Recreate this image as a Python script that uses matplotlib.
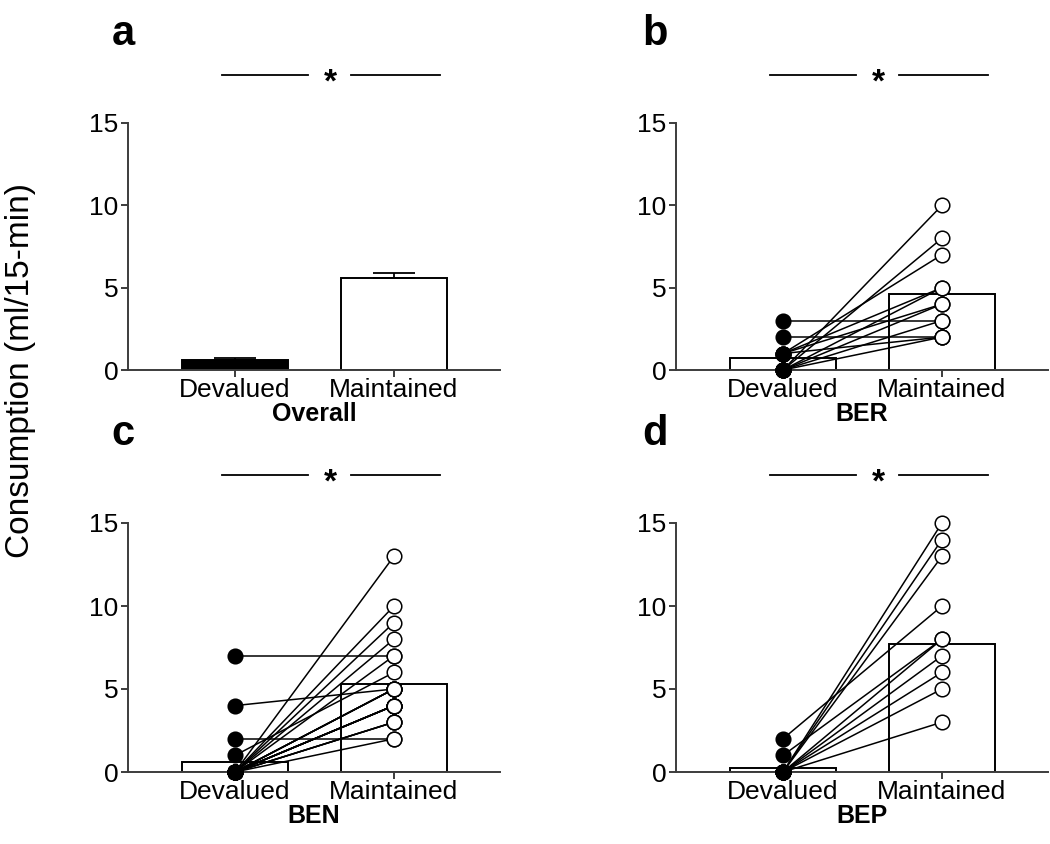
import matplotlib.pyplot as plt

plt.rcParams['font.family'] = ['Liberation Sans', 'DejaVu Sans']

groups = ["Devalued", "Maintained"]

# a: overall means with SEM
overall_means = [0.6, 5.6]
overall_sem = [0.15, 0.32]

# b: BER
ber_means = [0.75, 4.6]
ber_devalued = [0, 0, 1, 0, 1, 0, 1, 3, 0, 2, 0, 1]
ber_maintained = [10, 8, 7, 5, 5, 4, 4, 3, 3, 2, 2, 2]

# c: BEN
ben_means = [0.6, 5.3]
ben_devalued = [7, 4, 2, 1, 0, 0, 0, 0, 0, 0, 0, 0, 0, 0, 0, 0, 0, 0, 0, 0, 0, 0, 0]
ben_maintained = [7, 5, 2, 6, 13, 10, 9, 8, 7, 5, 5, 5, 5, 4, 4, 4, 4, 4, 4, 3, 3, 3, 2]

# d: BEP
bep_means = [0.26, 7.7]
bep_devalued = [2, 1, 0, 0, 0, 0, 0, 0, 0, 0]
bep_maintained = [10, 8, 8, 15, 14, 13, 7, 6, 5, 3]

FS = 19
AX_COLOR = "#3c3c3c"
W, H = 1050, 844


def make_axes(fig, left_px, zero_px, top_px):
    rect = [left_px / W, (H - zero_px) / H, 372 / W, (zero_px - top_px) / H]
    ax = fig.add_axes(rect)
    for s in ["top", "right"]:
        ax.spines[s].set_visible(False)
    for s in ["left", "bottom"]:
        ax.spines[s].set_color(AX_COLOR)
        ax.spines[s].set_linewidth(1.4)
    ax.set_xlim(-0.673, 1.667)
    ax.set_ylim(0, 15)
    ax.set_yticks([0, 5, 10, 15])
    ax.set_xticks([0, 1])
    ax.set_xticklabels(groups)
    ax.tick_params(colors=AX_COLOR, labelcolor="black", labelsize=FS,
                   width=1.4, length=5, pad=2)
    ax.tick_params(axis="x", pad=1)
    return ax


def sig_bar(ax, y=17.9):
    ax.plot([-0.08, 0.46], [y, y], color="black", lw=1.3, clip_on=False)
    ax.plot([0.73, 1.29], [y, y], color="black", lw=1.3, clip_on=False)
    ax.text(0.6, y - 0.5, "*", ha="center", va="center", fontsize=24,
            fontweight="bold")


def paired_panel(ax, means, dev, mnt, title):
    ax.bar([0, 1], means, width=0.667, color="white", edgecolor="black",
           linewidth=1.4, zorder=1)
    for d, m in zip(dev, mnt):
        ax.plot([0, 1], [d, m], color="black", lw=1.1, zorder=2)
    ax.plot([0] * len(dev), dev, "o", ms=10.5, mfc="black", mec="black",
            mew=1.1, zorder=3, clip_on=False, ls="none")
    ax.plot([1] * len(mnt), mnt, "o", ms=10.5, mfc="white", mec="black",
            mew=1.1, zorder=3, clip_on=False, ls="none")
    ax.set_xlabel(title, fontsize=18, fontweight="bold", labelpad=0)
    sig_bar(ax)


fig = plt.figure(figsize=(W / 100, H / 100), dpi=100)

ax_a = make_axes(fig, 128, 370, 123)
ax_b = make_axes(fig, 676, 370, 123)
ax_c = make_axes(fig, 128, 772, 523)
ax_d = make_axes(fig, 676, 772, 523)

# a: bars with upward SEM only
ax_a.bar([0, 1], overall_means, width=0.667, color=["black", "white"],
         edgecolor="black", linewidth=1.4)
ax_a.errorbar([0, 1], overall_means, yerr=[[0, 0], overall_sem], fmt="none",
              ecolor="black", elinewidth=1.3, capsize=15, capthick=1.3)
ax_a.set_xlabel("Overall", fontsize=18, fontweight="bold", labelpad=0)
sig_bar(ax_a)

paired_panel(ax_b, ber_means, ber_devalued, ber_maintained, "BER")
paired_panel(ax_c, ben_means, ben_devalued, ben_maintained, "BEN")
paired_panel(ax_d, bep_means, bep_devalued, bep_maintained, "BEP")

for letter, x, y in [("a", 123, 45), ("b", 655, 45), ("c", 123, 445), ("d", 655, 445)]:
    fig.text(x / W, 1 - y / H, letter, fontsize=30, fontweight="bold",
             ha="center", va="baseline")

fig.text(21 / W, 1 - 370 / H, "Consumption (ml/15-min)", rotation=90,
         fontsize=24, ha="center", va="center")

fig.savefig("out.png", dpi=100)
